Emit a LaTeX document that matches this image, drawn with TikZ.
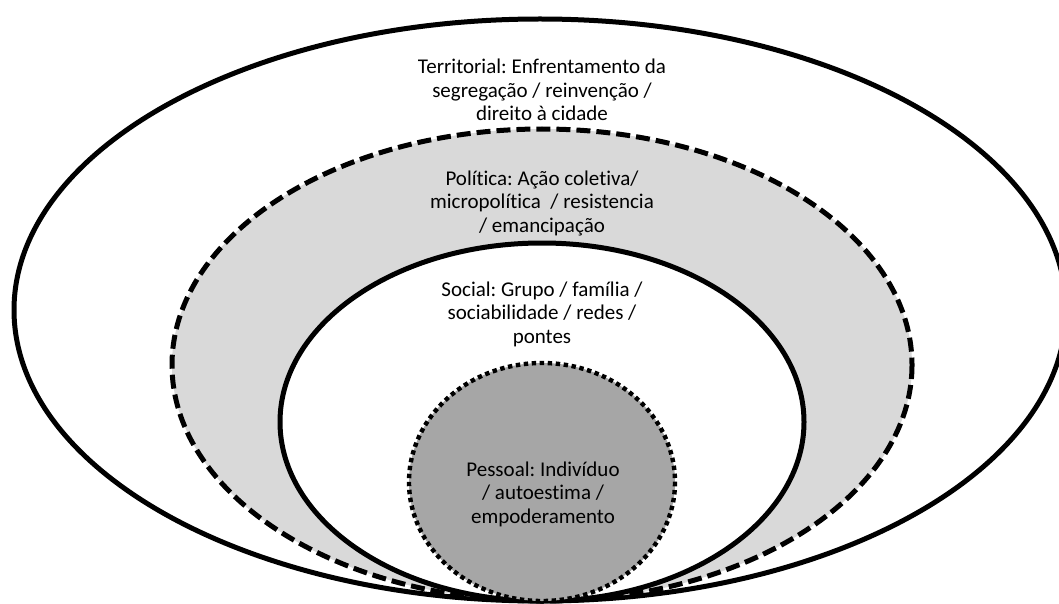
\documentclass[tikz,border=0pt]{standalone}
\usepackage{fontspec}
\setmainfont{Carlito}[Ligatures=NoCommon]
\definecolor{lightring}{HTML}{D9D9D9}
\definecolor{darkring}{HTML}{A6A6A6}
\frenchspacing
\begin{document}
\begin{tikzpicture}[x=1pt,y=-1pt,
  ring/.style={line width=5pt},
  ringtext/.style={align=center,font=\fontsize{21}{23.5}\selectfont}]
\useasboundingbox (0,0) rectangle (1059,604);
\filldraw [ring,fill=white] (540,310) ellipse (526 and 291);
\filldraw [ring,fill=lightring,dash pattern=on 14pt off 6pt] (542,365) ellipse (370 and 236);
\filldraw [ring,fill=white] (542,422) ellipse (262 and 179);
\filldraw [ring,fill=darkring,line width=4.4pt,dash pattern=on 4.4pt off 3.6pt] (542,482) ellipse (133 and 119);
\node [ringtext] (territorial) at (542,90) {Territorial: Enfrentamento da\\segregação / reinvenção /\\direito à cidade};
\node [ringtext] (politica) at (542,203) {Política: Ação coletiva/\\micropolítica\ \ / resistencia\\/ emancipação};
\node [ringtext] (social) at (542,314) {Social: Grupo / família /\\sociabilidade / redes /\\pontes};
\node [ringtext] (pessoal) at (543,494) {Pessoal: Indivíduo\\/ autoestima /\\empoderamento};
\end{tikzpicture}
\end{document}
